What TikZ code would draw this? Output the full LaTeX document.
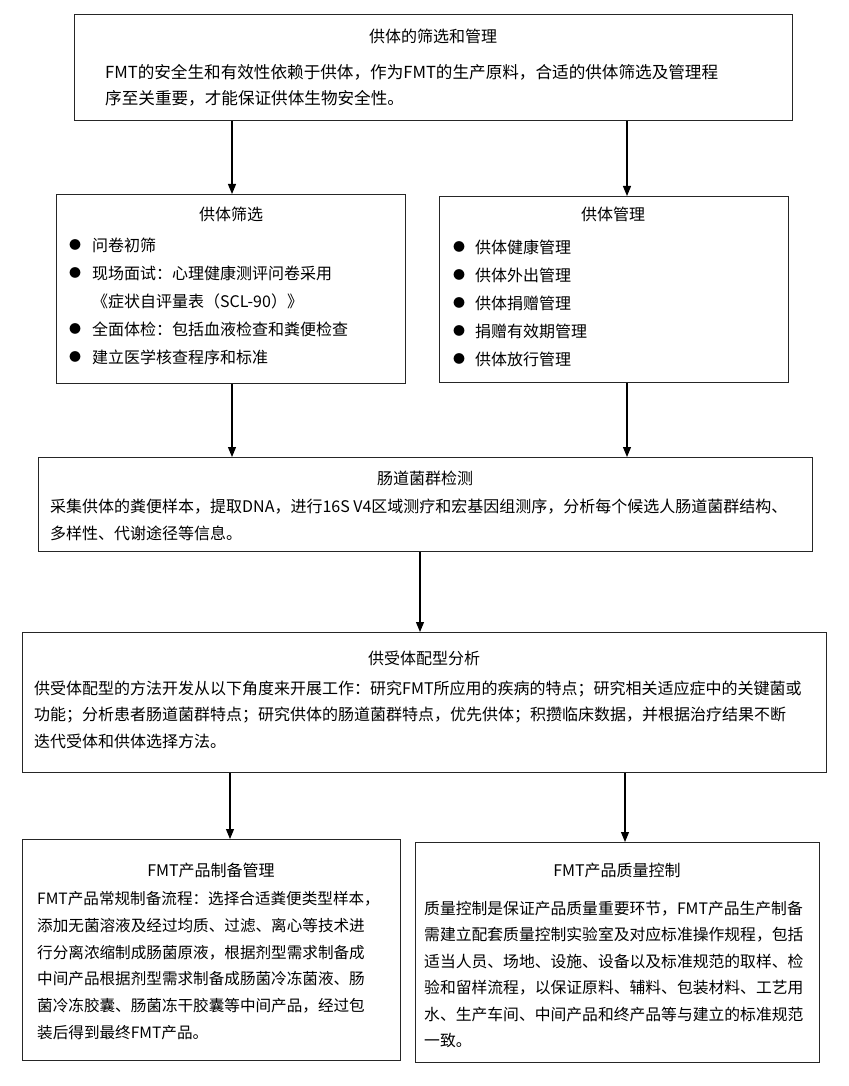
\documentclass[tikz,border=0pt]{standalone}
\usepackage{fontspec}
\setmainfont{Noto Sans CJK SC}
\usetikzlibrary{arrows.meta}
\begin{document}
\begin{tikzpicture}[x=1pt,y=-1pt,
  box/.style={draw=black!85,line width=1.4pt,inner sep=0pt,anchor=north west},
  arr/.style={line width=1.1pt,draw=black,-{Triangle[length=10pt,width=8pt]}},
  ln/.style={anchor=west,inner sep=0pt,font=\fontsize{16}{16}\selectfont},
  lnl/.style={anchor=west,inner sep=0pt,font=\fontsize{15.6}{16}\selectfont},
  lnr/.style={anchor=west,inner sep=0pt,font=\fontsize{15.8}{16}\selectfont},
  lnt/.style={anchor=west,inner sep=0pt,font=\fontsize{16.6}{17}\selectfont},
  ttl/.style={anchor=center,inner sep=0pt,font=\fontsize{16}{16}\selectfont},
  bul/.style={anchor=center,inner sep=0pt,font=\fontsize{12}{12}\selectfont}]
\useasboundingbox[fill=white] (0,0) rectangle (848,1086);
% boxes
\node[box,minimum width=718,minimum height=106] (top) at (74,14) {};
\node[box,minimum width=349,minimum height=189] (lb) at (56,194) {};
\node[box,minimum width=349,minimum height=186] (rb) at (439,196) {};
\node[box,minimum width=774,minimum height=94] (mid) at (38,457) {};
\node[box,minimum width=804,minimum height=140] (pair) at (22,632) {};
\node[box,minimum width=378,minimum height=221] (bl) at (22,839) {};
\node[box,minimum width=404,minimum height=220] (br) at (415,842) {};
% top box text
\node[ttl] (t0) at (433,36) {供体的筛选和管理};
\node[lnt] (t1) at (105,72) {FMT的安全生和有效性依赖于供体，作为FMT的生产原料，合适的供体筛选及管理程};
\node[lnt] (t2) at (105,98) {序至关重要，才能保证供体生物安全性。};
% left box
\node[ttl] (l0) at (231,214) {供体筛选};
\node[bul] (lb1) at (75,245) {●};
\node[ln] (l1) at (92,245) {问卷初筛};
\node[bul] (lb2) at (75,273) {●};
\node[ln] (l2) at (92,273) {现场面试：心理健康测评问卷采用};
\node[ln] (l3) at (92,301) {《症状自评量表（SCL-90）》};
\node[bul] (lb4) at (75,329) {●};
\node[ln] (l4) at (92,329) {全面体检：包括血液检查和粪便检查};
\node[bul] (lb5) at (75,357) {●};
\node[ln] (l5) at (92,357) {建立医学核查程序和标准};
% right box
\node[ttl] (r0) at (613,214) {供体管理};
\node[bul] (rb1) at (459,247) {●};
\node[ln] (r1) at (475,247) {供体健康管理};
\node[bul] (rb2) at (459,275) {●};
\node[ln] (r2) at (475,275) {供体外出管理};
\node[bul] (rb3) at (459,303) {●};
\node[ln] (r3) at (475,303) {供体捐赠管理};
\node[bul] (rb4) at (459,331) {●};
\node[ln] (r4) at (475,331) {捐赠有效期管理};
\node[bul] (rb5) at (459,359) {●};
\node[ln] (r5) at (475,359) {供体放行管理};
% middle box
\node[ttl] (m0) at (425,478) {肠道菌群检测};
\node[ln] (m1) at (50,507) {采集供体的粪便样本，提取DNA，进行16S V4区域测疗和宏基因组测序，分析每个候选人肠道菌群结构、};
\node[ln] (m2) at (50,533) {多样性、代谢途径等信息。};
% pair box
\node[ttl] (p0) at (424,658) {供受体配型分析};
\node[ln] (p1) at (34,689) {供受体配型的方法开发从以下角度来开展工作：研究FMT所应用的疾病的特点；研究相关适应症中的关键菌或};
\node[ln] (p2) at (34,715) {功能；分析患者肠道菌群特点；研究供体的肠道菌群特点，优先供体；积攒临床数据，并根据治疗结果不断};
\node[ln] (p3) at (34,741) {迭代受体和供体选择方法。};
% bottom left
\node[ttl] (bl0) at (211,870) {FMT产品制备管理};
\node[lnl] (bl1) at (37,899) {FMT产品常规制备流程：选择合适粪便类型样本，};
\node[lnl] (bl2) at (37,926) {添加无菌溶液及经过均质、过滤、离心等技术进};
\node[lnl] (bl3) at (37,953) {行分离浓缩制成肠菌原液，根据剂型需求制备成};
\node[lnl] (bl4) at (37,979) {中间产品根据剂型需求制备成肠菌冷冻菌液、肠};
\node[lnl] (bl5) at (37,1006) {菌冷冻胶囊、肠菌冻干胶囊等中间产品，经过包};
\node[lnl] (bl6) at (37,1033) {装后得到最终FMT产品。};
% bottom right
\node[ttl] (br0) at (617,870) {FMT产品质量控制};
\node[lnr] (br1) at (424,909) {质量控制是保证产品质量重要环节，FMT产品生产制备};
\node[lnr] (br2) at (424,935) {需建立配套质量控制实验室及对应标准操作规程，包括};
\node[lnr] (br3) at (424,961) {适当人员、场地、设施、设备以及标准规范的取样、检};
\node[lnr] (br4) at (424,988) {验和留样流程，以保证原料、辅料、包装材料、工艺用};
\node[lnr] (br5) at (424,1014) {水、生产车间、中间产品和终产品等与建立的标准规范};
\node[lnr] (br6) at (424,1040) {一致。};
% arrow columns
\coordinate (cA) at (232,0);
\coordinate (cB) at (627,0);
\coordinate (cC) at (420,0);
\coordinate (cD) at (230,0);
\coordinate (cE) at (625,0);
\draw[arr] (top.south -| cA) -- (lb.north -| cA);
\draw[arr] (top.south -| cB) -- (rb.north -| cB);
\draw[arr] (lb.south -| cA) -- (mid.north -| cA);
\draw[arr] (rb.south -| cB) -- (mid.north -| cB);
\draw[arr] (mid.south -| cC) -- (pair.north -| cC);
\draw[arr] (pair.south -| cD) -- (bl.north -| cD);
\draw[arr] (pair.south -| cE) -- (br.north -| cE);
\end{tikzpicture}
\end{document}
